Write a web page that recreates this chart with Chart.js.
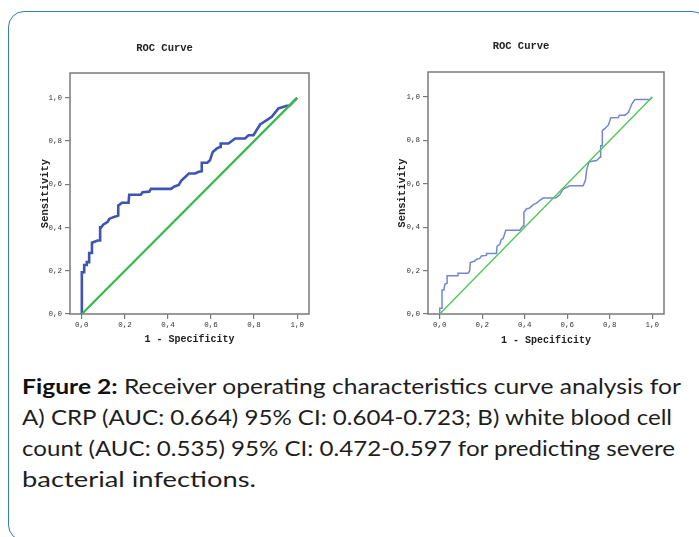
<!DOCTYPE html>
<html>
<head>
<meta charset="utf-8">
<script src="https://cdn.jsdelivr.net/npm/chart.js@4.4.0/dist/chart.umd.min.js"></script>
<style>
  body { margin: 0; background: #fff; width: 699px; height: 537px; overflow: hidden; position: relative; }
  #frame { position: absolute; left: 8px; top: 11px; width: 700px; height: 530px; border: 1.5px solid #3b79b7;
           border-radius: 16px; box-sizing: border-box; }
  .wrap { position: absolute; }
  #rocA { left: 20px; top: 30px; width: 303px; height: 320px; }
  #rocB { left: 378px; top: 30px; width: 298px; height: 320px; }
  .line { position: absolute; left: 22px; white-space: nowrap; font-family: Lato, "Open Sans", sans-serif;
          font-size: 21.5px; line-height: 31px; color: #1e1e1e; transform-origin: 0 50%; }
  .line b { color: #111; }
</style>
</head>
<body>
<div id="frame"></div>
<div class="wrap" id="rocA"><canvas id="chartA"></canvas></div>
<div class="wrap" id="rocB"><canvas id="chartB"></canvas></div>
<div class="line" style="top:371px"><b>Figure 2:</b> Receiver operating characteristics curve analysis for</div>
<div class="line" style="top:402px">A) CRP (AUC: 0.664) 95% CI: 0.604-0.723; B) white blood cell</div>
<div class="line" style="top:433px">count (AUC: 0.535) 95% CI: 0.472-0.597 for predicting severe</div>
<div class="line" style="top:464px">bacterial infections.</div>

<script>
// tick values and their labels (comma decimals, as in SPSS output)
const tickValues = [0, 0.2, 0.4, 0.6, 0.8, 1.0];
const tickLabels = ['0,0', '0,2', '0,4', '0,6', '0,8', '1,0'];

// A) CRP  -- [1 - specificity, sensitivity]
const crpCurve = [
  [0, 0], [0, 0.193], [0.011, 0.193], [0.011, 0.227], [0.023, 0.227], [0.023, 0.240],
  [0.034, 0.240], [0.034, 0.282], [0.045, 0.282], [0.047, 0.33], [0.073, 0.34], [0.085, 0.34],
  [0.085, 0.401], [0.09, 0.401], [0.099, 0.413], [0.12, 0.426], [0.127, 0.44], [0.146, 0.448],
  [0.169, 0.455], [0.169, 0.502], [0.174, 0.505], [0.186, 0.515], [0.217, 0.515], [0.220, 0.552],
  [0.274, 0.552], [0.282, 0.563], [0.313, 0.566], [0.321, 0.579], [0.414, 0.579], [0.43, 0.59],
  [0.45, 0.597], [0.462, 0.617], [0.48, 0.634], [0.497, 0.65], [0.526, 0.65], [0.541, 0.657],
  [0.557, 0.661], [0.557, 0.70], [0.583, 0.70], [0.595, 0.711], [0.608, 0.75], [0.626, 0.765],
  [0.642, 0.773], [0.645, 0.789], [0.681, 0.789], [0.712, 0.812], [0.758, 0.812], [0.774, 0.827],
  [0.797, 0.827], [0.828, 0.877], [0.859, 0.897], [0.882, 0.912], [0.913, 0.951], [0.952, 0.963],
  [0.963, 0.963], [1, 1]
];

// B) white blood cell count
const wbcCurve = [
  [0, 0], [0, 0.026], [0.011, 0.026], [0.011, 0.111], [0.02, 0.111], [0.024, 0.137], [0.035, 0.142],
  [0.035, 0.176], [0.082, 0.176], [0.086, 0.188], [0.133, 0.188], [0.141, 0.198], [0.144, 0.237],
  [0.165, 0.244], [0.173, 0.252], [0.188, 0.255], [0.196, 0.267], [0.22, 0.27], [0.22, 0.279],
  [0.267, 0.279], [0.27, 0.313], [0.283, 0.321], [0.29, 0.344], [0.298, 0.347], [0.311, 0.386],
  [0.377, 0.386], [0.385, 0.397], [0.392, 0.405], [0.396, 0.469], [0.408, 0.484], [0.424, 0.489],
  [0.44, 0.504], [0.455, 0.511], [0.471, 0.524], [0.487, 0.534], [0.542, 0.534], [0.553, 0.54],
  [0.565, 0.55], [0.581, 0.576], [0.612, 0.591], [0.675, 0.591], [0.686, 0.618], [0.691, 0.664],
  [0.703, 0.702], [0.738, 0.707], [0.754, 0.722], [0.757, 0.775], [0.765, 0.775], [0.765, 0.845],
  [0.777, 0.855], [0.793, 0.87], [0.805, 0.904], [0.84, 0.905], [0.845, 0.916], [0.871, 0.916],
  [0.887, 0.928], [0.895, 0.947], [0.903, 0.966], [0.918, 0.988], [0.989, 0.988], [1, 1]
];

const refLine = [[0, 0], [1, 1]];

const axisGray = '#7a7a7a';
const mono = 'Liberation Mono';

const framePlugin = {
  id: 'frame',
  beforeDatasetsDraw(chart) {
    const { ctx, chartArea: a } = chart;
    ctx.save();
    ctx.strokeStyle = axisGray;
    ctx.lineWidth = 1.5;
    ctx.strokeRect(a.left, a.top, a.right - a.left, a.bottom - a.top);
    ctx.restore();
  }
};

function toPoints(arr) {
  return arr.map(p => ({ x: p[0], y: p[1] }));
}

function rocChart(id, curve, o) {
  const ctx = document.getElementById(id).getContext('2d');
  return new Chart(ctx, {
    type: 'scatter',
    data: {
      datasets: [
        { data: toPoints(refLine), showLine: true, borderColor: o.green, borderWidth: o.greenWidth,
          pointRadius: 0, tension: 0 },
        { data: toPoints(curve), showLine: true, borderColor: o.blue, borderWidth: o.blueWidth,
          pointRadius: 0, tension: 0 }
      ]
    },
    options: {
      responsive: true,
      maintainAspectRatio: false,
      animation: false,
      layout: { padding: { left: 0, right: o.padRight, top: 0, bottom: 0 } },
      plugins: {
        legend: { display: false },
        tooltip: { enabled: false },
        title: {
          display: true, text: 'ROC Curve', color: '#222',
          font: { family: mono, size: 10.5, weight: 'bold' },
          padding: { top: o.titleTop, bottom: o.titleBottom }
        }
      },
      scales: {
        x: {
          type: 'linear', min: -0.055, max: 1.055,
          afterBuildTicks: s => { s.ticks = tickValues.map(v => ({ value: v })); },
          afterFit: s => { s.height = 36; },
          ticks: { callback: (v, i) => tickLabels[i], color: '#333', padding: 2,
                   font: { family: mono, size: 7.5 }, maxRotation: 0 },
          grid: { drawOnChartArea: false, drawTicks: true, tickLength: 5, color: axisGray, lineWidth: 1.2 },
          border: { display: false },
          title: { display: true, text: '1 - Specificity', color: '#222',
                   font: { family: mono, size: 10, weight: 'bold' }, padding: { top: 0, bottom: o.xTitlePad } }
        },
        y: {
          type: 'linear', min: 0, max: 1.115,
          afterBuildTicks: s => { s.ticks = tickValues.map(v => ({ value: v })); },
          afterFit: s => { s.width = 50; },
          ticks: { callback: (v, i) => tickLabels[i], color: '#333', padding: 3,
                   font: { family: mono, size: 7.5 } },
          grid: { drawOnChartArea: false, drawTicks: true, tickLength: 5, color: axisGray, lineWidth: 1.2 },
          border: { display: false },
          title: { display: true, text: 'Sensitivity', color: '#222',
                   font: { family: mono, size: 10.5, weight: 'bold' }, padding: { top: o.yTitlePad, bottom: 0 } }
        }
      }
    },
    plugins: [framePlugin]
  });
}

rocChart('chartA', crpCurve, {
  blue: '#3f55b4', blueWidth: 2.6, green: '#38b94a', greenWidth: 2.2,
  padRight: 14, titleTop: 11.7, titleBottom: 18.7, xTitlePad: 4.4, yTitlePad: 19.4
});
rocChart('chartB', wbcCurve, {
  blue: '#7486d2', blueWidth: 1.5, green: '#4fc85a', greenWidth: 1.4,
  padRight: 12, titleTop: 9.7, titleBottom: 19.7, xTitlePad: 3.7, yTitlePad: 18.4
});

// stretch each caption line to the measured width of the original
const captionWidths = [659, 650, 653, 234];
document.fonts.ready.then(() => {
  document.querySelectorAll('.line').forEach((el, i) => {
    const w = el.getBoundingClientRect().width;
    el.style.transform = 'scaleX(' + (captionWidths[i] / w).toFixed(4) + ')';
  });
});
</script>
</body>
</html>
